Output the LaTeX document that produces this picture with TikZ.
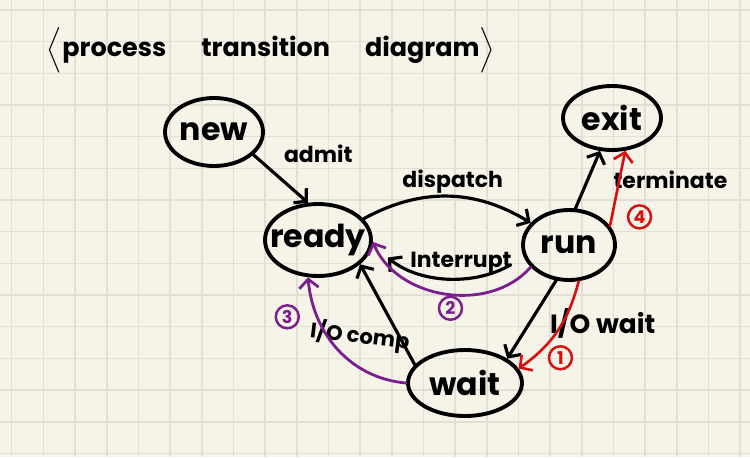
\documentclass[tikz,border=0pt]{standalone}
\usepackage{fontspec,amsmath}
\setmainfont{Poppins}
\usetikzlibrary{shapes.geometric, arrows.meta, positioning}
\definecolor{paper}{RGB}{246,244,233}
\definecolor{gridline}{RGB}{226,224,212}
\definecolor{penred}{RGB}{214,16,16}
\definecolor{penpurple}{RGB}{123,31,143}
\tikzstyle{proc}=[ellipse, draw, line width=2.2pt, inner xsep=-0.5cm, inner ysep=0pt, font=\fontsize{18}{20}\selectfont\bfseries]
\tikzstyle{arrow}=[line width=1.8pt, ->, >={Straight Barb[length=5pt, width=11pt]}, line cap=round]
\tikzstyle{redarrow}=[arrow, line width=1.5pt, penred]
\tikzstyle{purplearrow}=[arrow, line width=1.6pt, penpurple]
\tikzstyle{lbl}=[font=\fontsize{12.5}{15}\selectfont\bfseries, inner sep=1pt]
\tikzstyle{num}=[circle, draw, line width=1.4pt, minimum size=0.46cm, inner sep=0pt, font=\fontsize{10}{10}\selectfont\bfseries]

\begin{document}
\begin{tikzpicture}[x=0.02cm, y=-0.02cm]
\useasboundingbox (0,0) rectangle (750,457);
\fill[paper] (0,0) rectangle (750,457);

% squared paper
\foreach \i in {0,...,23}
	\draw[gridline, line width=0.9pt] (11.7+31.67*\i,0) -- (11.7+31.67*\i,457);
\foreach \j in {0,...,14}
	\draw[gridline, line width=0.9pt] (0,10+31.67*\j) -- (750,10+31.67*\j);

\node[font=\fontsize{14.5}{17}\selectfont\bfseries] (title) at (271,50) {$\boldsymbol{\Bigl\langle}$process\hspace{0.7cm}transition\hspace{0.7cm}diagram$\boldsymbol{\Bigr\rangle}$};

\node[proc, minimum width=1.96cm, minimum height=1.36cm] (new) at (214,132) {new};
\node[proc, minimum width=2.12cm, minimum height=1.44cm] (ready) at (318,240) {ready};
\node[proc, minimum width=1.84cm, minimum height=1.4cm] (run) at (569,245) {run};
\node[proc, minimum width=2.28cm, minimum height=1.32cm] (wait) at (465,383) {wait};
\node[proc, minimum width=1.96cm, minimum height=1.28cm] (exit) at (612,118) {exit};

\draw[arrow] (new.-30) -- node[lbl, above right=0.25cm and 0cm] {admit} (ready.105);
\draw[arrow] (ready.25) to[bend left=30] node[lbl, above=0pt, xshift=0.1cm] {dispatch} (run.150);
\draw[arrow, shorten <=0.3cm, shorten >=0.4cm] (run.-165) to[bend left=35] node[lbl, above=0pt, xshift=0.3cm] {Interrupt} (ready.-5);
\draw[arrow] (run.-110) -- node[lbl, pos=0.55, right=0.35cm, font=\fontsize{15}{18}\selectfont\bfseries] {I/O wait} (wait.30);
\draw[arrow] (wait.160) -- node[lbl, pos=0.22, left=-0.2cm, rotate=-7, font=\fontsize{12}{14}\selectfont\bfseries] {I/O comp} (ready.-30);
\draw[arrow] (run.80) -- node[lbl, right=0.45cm] {terminate} (exit.-110);

% order of events
\draw[redarrow] (run.-75) to[bend left=20] node[num, penred, pos=0.85, right=0.3cm] {1} (wait.15);
\draw[purplearrow] (run.-150) to[bend left=58] node[num, penpurple, below=1pt, xshift=0.1cm] {2} (ready.-2);
\draw[purplearrow] (wait.180) to[out=175, in=-85] node[num, penpurple, pos=0.75, left=0.35cm] {3} (ready.-105);
\draw[redarrow] (run.25) -- node[num, penred, pos=0.12, right=0.3cm] {4} (exit.-68);
\end{tikzpicture}
\end{document}
